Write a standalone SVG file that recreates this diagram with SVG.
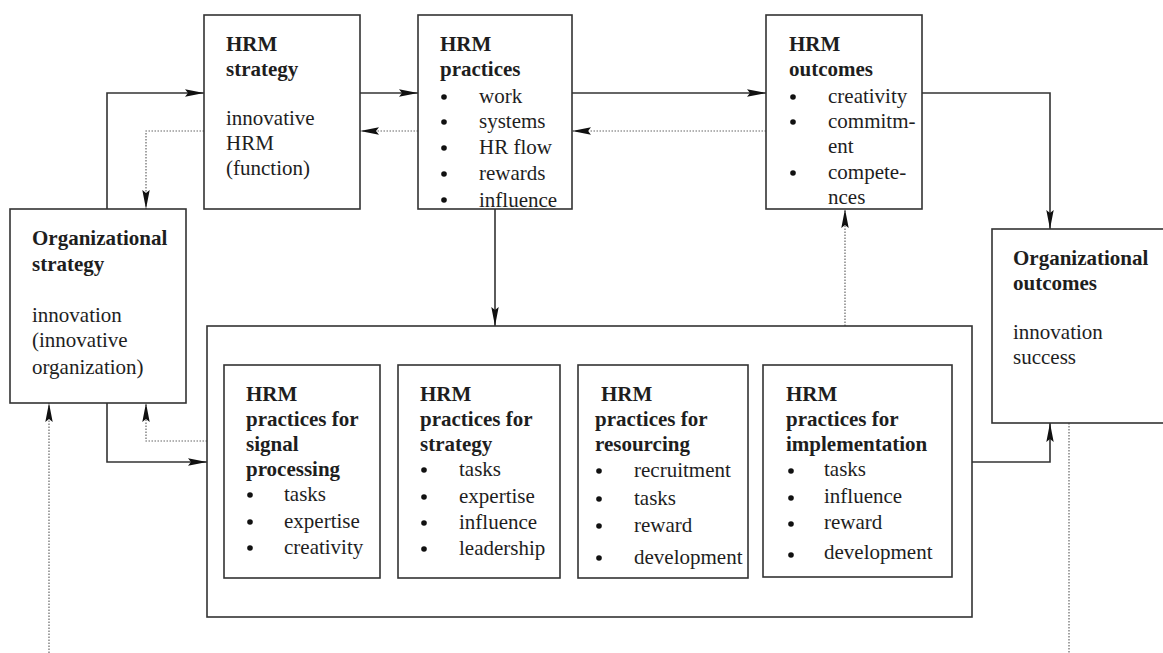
<svg xmlns="http://www.w3.org/2000/svg" width="1163" height="653" viewBox="0 0 1163 653">
  <style>
    .box { fill: #fff; stroke: #333; stroke-width: 1.6; }
    text { font-family: 'Liberation Serif', 'DejaVu Serif', 'Times New Roman', serif; font-size: 21px; fill: #1e1e1e; }
    .b { font-weight: bold; }
    .solid { fill: none; stroke: #333; stroke-width: 1.6; }
    .dot { fill: none; stroke: #666; stroke-width: 1.2; stroke-dasharray: 1.5 1.5; }
    .bullet { fill: #111; }
  </style>
  <defs>
    <marker id="arrow" markerUnits="userSpaceOnUse" markerWidth="20" markerHeight="9" refX="19" refY="4.5" orient="auto">
      <path d="M0,0.8 L19,4.5 L0,8.2 L3,4.5 z" fill="#111"/>
    </marker>
  </defs>

  <rect width="1163" height="653" fill="#fff"/>

  <!-- connectors -->
  <g id="connectors">
    <!-- org strategy -> HRM strategy -->
    <path class="solid" d="M107,209 V93 H204" marker-end="url(#arrow)"/>
    <!-- HRM strategy -> org strategy (feedback) -->
    <path class="dot" d="M204,131 H146 V209" marker-end="url(#arrow)"/>
    <!-- HRM strategy -> HRM practices -->
    <path class="solid" d="M360,93 H418" marker-end="url(#arrow)"/>
    <path class="dot" d="M418,131 H360" marker-end="url(#arrow)"/>
    <!-- HRM practices -> HRM outcomes -->
    <path class="solid" d="M572,93 H766" marker-end="url(#arrow)"/>
    <path class="dot" d="M766,131 H572" marker-end="url(#arrow)"/>
    <!-- HRM outcomes -> organizational outcomes -->
    <path class="solid" d="M922,93 H1050 V229" marker-end="url(#arrow)"/>
    <!-- HRM practices -> practice clusters -->
    <path class="solid" d="M495,209 V326" marker-end="url(#arrow)"/>
    <!-- practice clusters -> HRM outcomes -->
    <path class="dot" d="M845,326 V209" marker-end="url(#arrow)"/>
    <!-- org strategy -> practice clusters -->
    <path class="solid" d="M107,403 V462 H207" marker-end="url(#arrow)"/>
    <path class="dot" d="M207,441 H146 V403" marker-end="url(#arrow)"/>
    <!-- practice clusters -> organizational outcomes -->
    <path class="solid" d="M972,462 H1050 V423" marker-end="url(#arrow)"/>
    <!-- outcome feedback loop -->
    <path class="dot" d="M1069,423 V653"/>
    <path class="dot" d="M49,653 V403" marker-end="url(#arrow)"/>
  </g>

  <g id="hrm-strategy">
    <rect class="box" x="204" y="15" width="156" height="194"/>
    <text class="b" x="226" y="51">HRM</text>
    <text class="b" x="226" y="76">strategy</text>
    <text x="226" y="125">innovative</text>
    <text x="226" y="150">HRM</text>
    <text x="226" y="175">(function)</text>
  </g>

  <g id="hrm-practices">
    <rect class="box" x="418" y="15" width="154" height="194"/>
    <text class="b" x="440" y="51">HRM</text>
    <text class="b" x="440" y="76">practices</text>
    <circle class="bullet" cx="444" cy="97" r="2.8"/>
    <circle class="bullet" cx="444" cy="122" r="2.8"/>
    <circle class="bullet" cx="444" cy="148" r="2.8"/>
    <circle class="bullet" cx="444" cy="174" r="2.8"/>
    <circle class="bullet" cx="444" cy="200" r="2.8"/>
    <text x="479" y="103">work</text>
    <text x="479" y="128">systems</text>
    <text x="479" y="154">HR flow</text>
    <text x="479" y="180">rewards</text>
    <text x="479" y="207">influence</text>
  </g>

  <g id="hrm-outcomes">
    <rect class="box" x="766" y="15" width="156" height="194"/>
    <text class="b" x="789" y="51">HRM</text>
    <text class="b" x="789" y="76">outcomes</text>
    <circle class="bullet" cx="793" cy="97" r="2.8"/>
    <circle class="bullet" cx="793" cy="122" r="2.8"/>
    <circle class="bullet" cx="793" cy="173" r="2.8"/>
    <text x="828" y="103">creativity</text>
    <text x="828" y="128">commitm-</text>
    <text x="828" y="153">ent</text>
    <text x="828" y="179">compete-</text>
    <text x="828" y="204">nces</text>
  </g>

  <g id="org-strategy">
    <rect class="box" x="10" y="209" width="176" height="194"/>
    <text class="b" x="32" y="245">Organizational</text>
    <text class="b" x="32" y="271">strategy</text>
    <text x="32" y="322">innovation</text>
    <text x="32" y="347">(innovative</text>
    <text x="32" y="374">organization)</text>
  </g>

  <g id="org-outcomes">
    <rect class="box" x="992" y="229" width="180" height="194"/>
    <text class="b" x="1013" y="265">Organizational</text>
    <text class="b" x="1013" y="290">outcomes</text>
    <text x="1013" y="339">innovation</text>
    <text x="1013" y="364">success</text>
  </g>

  <g id="practice-clusters">
    <rect class="box" x="207" y="326" width="765" height="291"/>
  </g>

  <g id="signal-processing">
    <rect class="box" x="224" y="365" width="156" height="213"/>
    <text class="b" x="246" y="401">HRM</text>
    <text class="b" x="246" y="426">practices for</text>
    <text class="b" x="246" y="451">signal</text>
    <text class="b" x="246" y="476">processing</text>
    <circle class="bullet" cx="250" cy="495" r="2.8"/>
    <circle class="bullet" cx="250" cy="522" r="2.8"/>
    <circle class="bullet" cx="250" cy="548" r="2.8"/>
    <text x="284" y="501">tasks</text>
    <text x="284" y="528">expertise</text>
    <text x="284" y="554">creativity</text>
  </g>

  <g id="strategy-practices">
    <rect class="box" x="398" y="365" width="162" height="213"/>
    <text class="b" x="420" y="401">HRM</text>
    <text class="b" x="420" y="426">practices for</text>
    <text class="b" x="420" y="451">strategy</text>
    <circle class="bullet" cx="424" cy="470" r="2.8"/>
    <circle class="bullet" cx="424" cy="497" r="2.8"/>
    <circle class="bullet" cx="424" cy="523" r="2.8"/>
    <circle class="bullet" cx="424" cy="549" r="2.8"/>
    <text x="459" y="476">tasks</text>
    <text x="459" y="503">expertise</text>
    <text x="459" y="529">influence</text>
    <text x="459" y="555">leadership</text>
  </g>

  <g id="resourcing-practices">
    <rect class="box" x="578" y="365" width="170" height="213"/>
    <text class="b" x="601" y="401">HRM</text>
    <text class="b" x="595" y="426">practices for</text>
    <text class="b" x="595" y="451">resourcing</text>
    <circle class="bullet" cx="599" cy="471" r="2.8"/>
    <circle class="bullet" cx="599" cy="499" r="2.8"/>
    <circle class="bullet" cx="599" cy="526" r="2.8"/>
    <circle class="bullet" cx="599" cy="558" r="2.8"/>
    <text x="634" y="477">recruitment</text>
    <text x="634" y="505">tasks</text>
    <text x="634" y="532">reward</text>
    <text x="634" y="564">development</text>
  </g>

  <g id="implementation-practices">
    <rect class="box" x="763" y="365" width="189" height="212"/>
    <text class="b" x="786" y="401">HRM</text>
    <text class="b" x="786" y="426">practices for</text>
    <text class="b" x="786" y="451">implementation</text>
    <circle class="bullet" cx="791" cy="471" r="2.8"/>
    <circle class="bullet" cx="791" cy="498" r="2.8"/>
    <circle class="bullet" cx="791" cy="524" r="2.8"/>
    <circle class="bullet" cx="791" cy="555" r="2.8"/>
    <text x="824" y="476">tasks</text>
    <text x="824" y="503">influence</text>
    <text x="824" y="529">reward</text>
    <text x="824" y="559">development</text>
  </g>
</svg>
